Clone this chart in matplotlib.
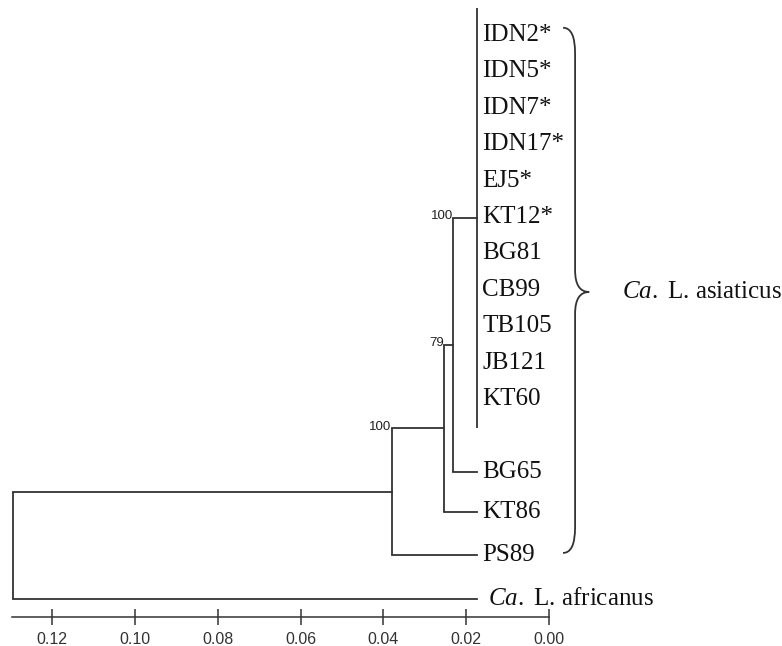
import matplotlib.pyplot as plt
from matplotlib.path import Path
from matplotlib.patches import PathPatch

plt.rcParams['font.family'] = 'Liberation Serif'
plt.rcParams['mathtext.fontset'] = 'custom'
plt.rcParams['mathtext.rm'] = 'Liberation Serif'
plt.rcParams['mathtext.it'] = 'Liberation Serif:italic'

# Листья дерева и их строки (сверху вниз)
leaf_names = ['IDN2*', 'IDN5*', 'IDN7*', 'IDN17*', 'EJ5*', 'KT12*', 'BG81',
              'CB99', 'TB105', 'JB121', 'KT60', 'BG65', 'KT86', 'PS89',
              'africanus']
leaf_labels = leaf_names[:-1] + [r' $\mathit{Ca.}$ L. africanus']
leaf_rows = [0, 1, 2, 3, 4, 5, 6, 7, 8, 9, 10, 12.0, 13.1, 14.3, 15.5]
tip_dist = 0.0174

# Внутренние узлы: расстояние и бутстрэп
node_names = ['asia', 'n100a', 'n79', 'n100b', 'root']
node_dist = [0.0174, 0.0231, 0.0253, 0.0380, 0.1295]
node_support = [None, 100, 79, 100, None]
children = {
    'asia': leaf_names[:11],
    'n100a': ['asia', 'BG65'],
    'n79': ['n100a', 'KT86'],
    'n100b': ['n79', 'PS89'],
    'root': ['n100b', 'africanus'],
}

ticks = [0.12, 0.10, 0.08, 0.06, 0.04, 0.02, 0.00]
LINE = '#333333'

fig = plt.figure(figsize=(7.82, 6.46), dpi=100)
ax = fig.add_axes([12 / 782, 29 / 646, 537 / 782, 617 / 646])

xpos = {n: tip_dist for n in leaf_names}
ypos = dict(zip(leaf_names, leaf_rows))

for name, dist, sup in zip(node_names, node_dist, node_support):
    kids = children[name]
    ys = [ypos[k] for k in kids]
    lo, hi = min(ys), max(ys)
    if name == 'asia':
        # свернутая политомия - линия чуть длиннее
        lo -= 0.75
        hi += 0.8
    xpos[name] = dist
    ypos[name] = (lo + hi) / 2
    ax.plot([dist, dist], [lo, hi], color=LINE, lw=1.3, solid_capstyle='butt')
    for k in kids:
        if xpos[k] != dist:
            ax.plot([dist, xpos[k]], [ypos[k], ypos[k]], color=LINE, lw=1.3)
    if sup is not None:
        # бутстрэп пишется слева от узла, у верхней ветви
        ax.text(dist + 0.0001, ypos[kids[0]] - 0.05, str(sup), ha='right',
                va='center', fontsize=9.5, family='Liberation Sans',
                color='#222222')

for lab, row in zip(leaf_labels, leaf_rows):
    ax.text(tip_dist - 0.0013, row, lab, ha='left', va='center', fontsize=18,
            color='#111111', clip_on=False)

# фигурная скобка для Ca. L. asiaticus
top, mid, bot = -0.2, 7.06, 14.23
x0, x1, x2 = -0.0034, -0.0063, -0.0097
verts = [(x0, top), (x1, top), (x1, top + 0.7),
         (x1, mid - 0.6), (x1, mid), (x2, mid),
         (x1, mid), (x1, mid + 0.6),
         (x1, bot - 0.7), (x1, bot), (x0, bot)]
codes = [Path.MOVETO, Path.CURVE3, Path.CURVE3,
         Path.LINETO, Path.CURVE3, Path.CURVE3,
         Path.CURVE3, Path.CURVE3,
         Path.LINETO, Path.CURVE3, Path.CURVE3]
ax.add_patch(PathPatch(Path(verts, codes), fill=False, edgecolor=LINE, lw=1.3,
                       clip_on=False))
ax.text(-0.0176, mid, r'$\mathit{Ca.}$ L. asiaticus', ha='left', va='center',
        fontsize=18, color='#111111', clip_on=False)

ax.set_xlim(0.1297, 0.0)
ax.set_ylim(15.99, -0.962)
ax.set_xticks(ticks)
ax.set_xticklabels([f'{t:.2f}' for t in ticks])
ax.tick_params(axis='x', direction='inout', length=12, width=1.1, pad=5,
               labelsize=11.5, colors=LINE)
for lab in ax.get_xticklabels():
    lab.set_family('Liberation Sans')
ax.set_yticks([])
for s in ['top', 'left', 'right']:
    ax.spines[s].set_visible(False)
ax.spines['bottom'].set_color(LINE)
ax.spines['bottom'].set_linewidth(1.1)

plt.savefig('out.png', dpi=100)
